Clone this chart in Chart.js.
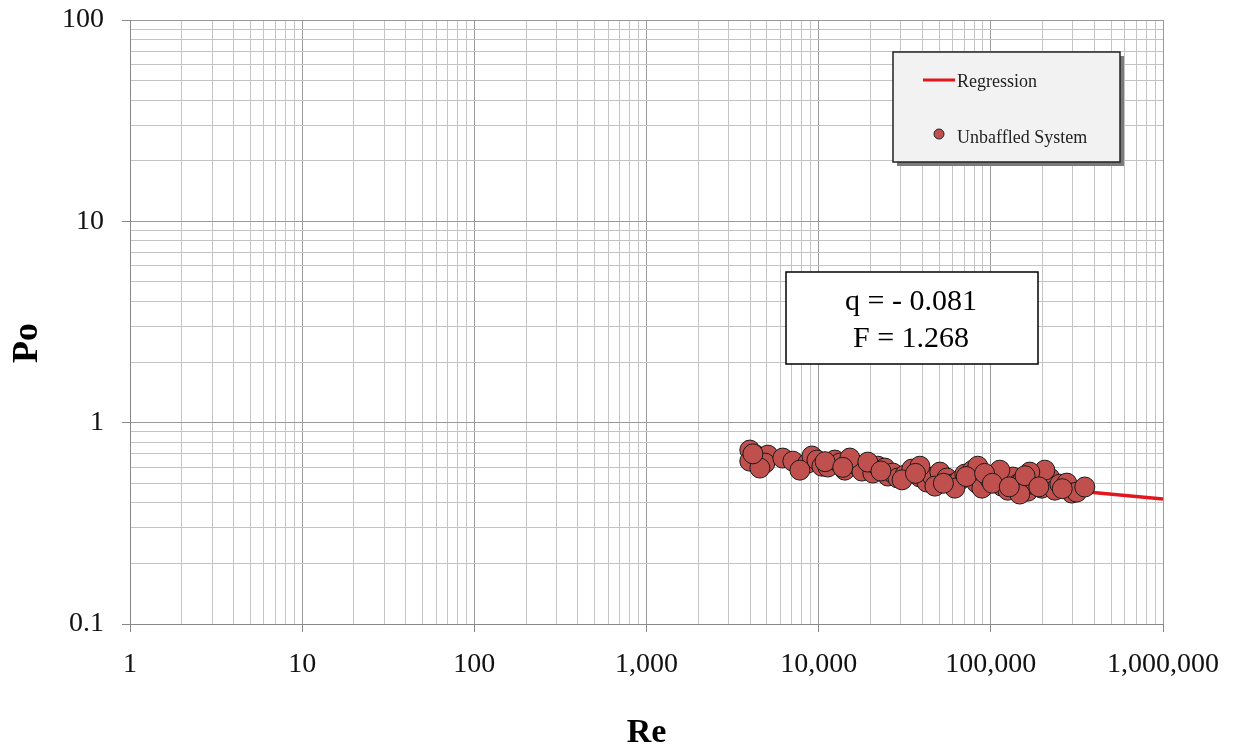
<!DOCTYPE html>
<html>
<head>
<meta charset="utf-8">
<script src="https://cdn.jsdelivr.net/npm/chart.js@4.4.0/dist/chart.umd.min.js"></script>
<style>
    body { margin: 0; background: #fff; }
    #wrap { width: 1245px; height: 753px; position: relative; }
</style>
</head>
<body>
<div id="wrap"><canvas id="poChart"></canvas></div>
<script>
const reValues = [3981, 3981, 4317, 5070, 4875, 6190, 7080, 8650, 9140, 9770,
    10440, 11300, 12420, 13270, 14190, 16660, 17820, 20640, 22080, 24230,
    25240, 26980, 28840, 31690, 34750, 38730, 42460, 46050, 50580, 55570,
    59380, 66070, 70630, 78550, 82950, 88720, 98630, 108400, 115800, 125600,
    134200, 143500, 153500, 164000, 173000, 185000, 197700, 220100, 235500, 251800,
    276300, 295400, 315500, 351400, 15170, 19300, 38730, 84000, 112800, 206000,
    168300, 47320, 61800, 147300, 4557, 7780, 4150, 10900, 13800, 23000,
    30500, 36500, 53000, 72000, 92000, 102000, 128000, 158000, 190000, 260000];
const poValues = [0.731, 0.644, 0.690, 0.690, 0.630, 0.667, 0.644, 0.630, 0.683, 0.652,
    0.608, 0.602, 0.652, 0.630, 0.581, 0.616, 0.575, 0.562, 0.608, 0.595,
    0.543, 0.562, 0.531, 0.549, 0.588, 0.537, 0.507, 0.537, 0.568, 0.531,
    0.495, 0.519, 0.555, 0.581, 0.501, 0.473, 0.525, 0.549, 0.484, 0.462,
    0.537, 0.495, 0.519, 0.457, 0.495, 0.531, 0.473, 0.531, 0.462, 0.495,
    0.501, 0.447, 0.452, 0.479, 0.667, 0.637, 0.608, 0.608, 0.581, 0.581,
    0.568, 0.484, 0.473, 0.442, 0.595, 0.581, 0.700, 0.640, 0.600, 0.575,
    0.520, 0.560, 0.500, 0.540, 0.560, 0.500, 0.480, 0.545, 0.480, 0.470];

// Regression line end points
const regRe = [4000, 1000000];
const regPo = [0.648, 0.418];

// Tick labels
const xTickLabels = ['1', '10', '100', '1,000', '10,000', '100,000', '1,000,000'];
const yTickLabels = ['0.1', '1', '10', '100'];

const annoLines = ['q = - 0.081', 'F = 1.268'];
const legendLabels = ['Regression', 'Unbaffled System'];

const SERIF = '"Liberation Serif", "DejaVu Serif", serif';

function logTicks(minExp, maxExp) {
    const out = [];
    for (let e = minExp; e < maxExp; e++) {
        for (let m = 1; m <= 9; m++) {
            out.push({ value: parseFloat((m * Math.pow(10, e)).toPrecision(12)) });
        }
    }
    out.push({ value: Math.pow(10, maxExp) });
    return out;
}

function isDecade(v) {
    const l = Math.log10(v);
    return Math.abs(l - Math.round(l)) < 1e-9;
}

function decadeLabel(labels, minExp) {
    return function (value) {
        if (!isDecade(value)) return '';
        return labels[Math.round(Math.log10(value)) - minExp];
    };
}

const gridStyle = {
    color: ctx => (ctx.tick && isDecade(ctx.tick.value)) ? '#9a9a9a' : '#c4c4c4',
    tickColor: ctx => (ctx.tick && isDecade(ctx.tick.value)) ? '#888' : 'rgba(0,0,0,0)',
    lineWidth: 1,
    tickLength: 8
};

// Legend box, annotation box and axis titles
const overlayPlugin = {
    id: 'overlay',
    afterDraw(chart) {
        const ctx = chart.ctx;
        const area = chart.chartArea;
        ctx.save();

        // axis titles
        ctx.fillStyle = '#000';
        ctx.font = 'bold 34px ' + SERIF;
        ctx.textAlign = 'center';
        ctx.textBaseline = 'middle';
        ctx.fillText('Re', (area.left + area.right) / 2, 733);
        ctx.save();
        ctx.translate(28, 343);
        ctx.rotate(-Math.PI / 2);
        ctx.font = 'bold 36px ' + SERIF;
        ctx.fillText('Po', 0, 0);
        ctx.restore();

        // annotation box
        ctx.fillStyle = '#fff';
        ctx.fillRect(786, 272, 252, 92);
        ctx.strokeStyle = '#000';
        ctx.lineWidth = 1.5;
        ctx.strokeRect(786, 272, 252, 92);
        ctx.fillStyle = '#000';
        ctx.font = '30px ' + SERIF;
        ctx.fillText(annoLines[0], 911, 302);
        ctx.fillText(annoLines[1], 911, 339);

        // legend
        ctx.fillStyle = '#7a7a7a';
        ctx.fillRect(897, 56, 227, 110);
        ctx.fillStyle = '#f2f2f2';
        ctx.fillRect(893, 52, 227, 110);
        ctx.strokeStyle = '#222';
        ctx.lineWidth = 1.5;
        ctx.strokeRect(893, 52, 227, 110);

        ctx.strokeStyle = '#e3161b';
        ctx.lineWidth = 3;
        ctx.beginPath();
        ctx.moveTo(923, 80);
        ctx.lineTo(955, 80);
        ctx.stroke();

        ctx.beginPath();
        ctx.arc(939, 134, 5, 0, Math.PI * 2);
        ctx.fillStyle = '#c0504d';
        ctx.fill();
        ctx.strokeStyle = '#222';
        ctx.lineWidth = 1;
        ctx.stroke();

        ctx.fillStyle = '#222';
        ctx.font = '18px ' + SERIF;
        ctx.textAlign = 'left';
        ctx.fillText(legendLabels[0], 957, 82);
        ctx.fillText(legendLabels[1], 957, 138);
        ctx.restore();
    }
};

const ctx = document.getElementById('poChart').getContext('2d');
const poChart = new Chart(ctx, {
    type: 'scatter',
    data: {
        datasets: [{
            label: 'Unbaffled System',
            data: reValues.map((re, i) => ({ x: re, y: poValues[i] })),
            backgroundColor: '#c0504d',
            borderColor: '#1a1a1a',
            borderWidth: 1,
            pointRadius: 10,
            pointHoverRadius: 10
        }, {
            type: 'line',
            label: 'Regression',
            data: regRe.map((re, i) => ({ x: re, y: regPo[i] })),
            borderColor: '#e3161b',
            borderWidth: 3.5,
            pointRadius: 0,
            fill: false
        }]
    },
    options: {
        responsive: true,
        maintainAspectRatio: false,
        animation: false,
        layout: { padding: { top: 20, right: 82, left: 0, bottom: 0 } },
        plugins: {
            legend: { display: false },
            tooltip: { enabled: false }
        },
        scales: {
            x: {
                type: 'logarithmic',
                min: 1,
                max: 1000000,
                afterBuildTicks: scale => { scale.ticks = logTicks(0, 6); },
                afterFit: scale => {
                    scale.height = 129;
                    scale.paddingLeft = 0;
                    scale.paddingRight = 0;
                },
                border: { color: '#888', width: 1 },
                grid: gridStyle,
                ticks: {
                    autoSkip: false,
                    maxRotation: 0,
                    padding: 16,
                    color: '#111',
                    font: { family: SERIF, size: 28 },
                    callback: decadeLabel(xTickLabels, 0)
                }
            },
            y: {
                type: 'logarithmic',
                min: 0.1,
                max: 100,
                afterBuildTicks: scale => { scale.ticks = logTicks(-1, 2); },
                afterFit: scale => {
                    scale.width = 130;
                    scale.paddingTop = 0;
                    scale.paddingBottom = 0;
                },
                border: { color: '#888', width: 1 },
                grid: gridStyle,
                ticks: {
                    autoSkip: false,
                    padding: 18,
                    color: '#111',
                    font: { family: SERIF, size: 28 },
                    callback: decadeLabel(yTickLabels, -1)
                }
            }
        }
    },
    plugins: [overlayPlugin]
});
</script>
</body>
</html>
